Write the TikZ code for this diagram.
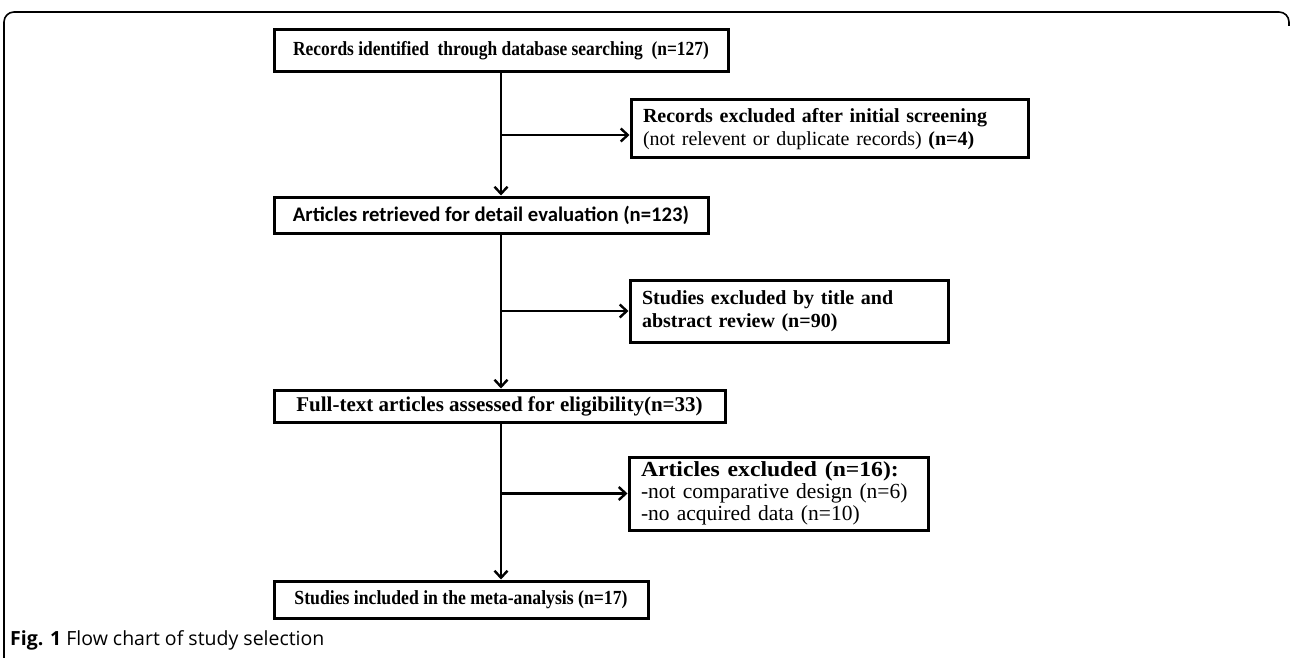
\documentclass[tikz,border=0pt]{standalone}
\usepackage{fontspec}
\setmainfont{Liberation Serif}
\newfontfamily\calfont{Carlito}
\newfontfamily\capfont{Open Sans}
\usetikzlibrary{arrows.meta}
\tikzset{
  box/.style={draw=black, line width=3pt, inner sep=0pt, minimum height=#1, anchor=center},
  tbox/.style={draw=black, line width=3pt, inner xsep=12pt, inner ysep=0pt, align=left, anchor=center},
  arr/.style={line width=2.4pt, -{Straight Barb[length=7pt,width=13pt,line width=2.4pt]}},
  frame/.style={line width=1.6pt, rounded corners=10pt}
}
\begin{document}
\begin{tikzpicture}[x=1pt,y=-1pt, font=\fontsize{20}{23}\selectfont]
\useasboundingbox (0,0) rectangle (1293,658);
% outer frame
\draw[frame] (4,658) -- (4,12) -- (1289,12) -- (1289,26);
% boxes
\node[box=42pt, minimum width=454pt] (b1) at (501,51) {\scalebox{0.87}[1]{\textbf{Records identified\ \ through database searching\ \ (n=127)}}};
\node[tbox, text width=373pt, minimum height=58pt] (b2) at (829.5,129) {\textbf{Records excluded after initial screening}\\(not relevent or duplicate records) \textbf{(n=4)}};
\node[box=36pt, minimum width=434pt] (b3) at (491,215) {\calfont\bfseries\fontsize{20.7}{23}\selectfont Articles retrieved for detail evaluation (n=123)};
\node[tbox, text width=294pt, minimum height=62pt] (b4) at (789,311) {\textbf{Studies excluded by title and}\\\textbf{abstract review (n=90)}};
\node[box=32pt, minimum width=451pt] (b5) at (499.5,406) {\fontsize{21}{23}\selectfont\textbf{Full-text articles assessed for eligibility(n=33)}};
\node[tbox, text width=275pt, minimum height=73pt, font=\fontsize{21.5}{22}\selectfont] (b6) at (778.5,493.5) {\scalebox{1.1}[1]{\textbf{Articles excluded (n=16):}}\\-not comparative design (n=6)\\-no acquired data (n=10)};
\node[box=37pt, minimum width=374pt] (b7) at (461,599.5) {\scalebox{0.885}[1]{\textbf{Studies included in the meta-analysis (n=17)}}};
% caption
\node[anchor=west, inner sep=0pt, font=\capfont\fontsize{19.5}{22}\selectfont] (cap) at (10,640) {\textbf{Fig. 1} Flow chart of study selection};
% connectors
\coordinate (t1) at (501,72);
\coordinate (j1) at (501,135);
\coordinate (t3) at (501,233);
\coordinate (t5) at (501,422);
\draw[arr] (t1) -- (t1 |- b3.north);
\draw[arr] (j1) -- (j1 -| b2.west);
\draw[arr] (t3) -- (t3 |- b5.north);
\draw[arr] (t3 |- b4.west) -- (b4.west);
\draw[arr] (t5) -- (t5 |- b7.north);
\draw[arr] (t5 |- b6.west) -- (b6.west);
\end{tikzpicture}
\end{document}
